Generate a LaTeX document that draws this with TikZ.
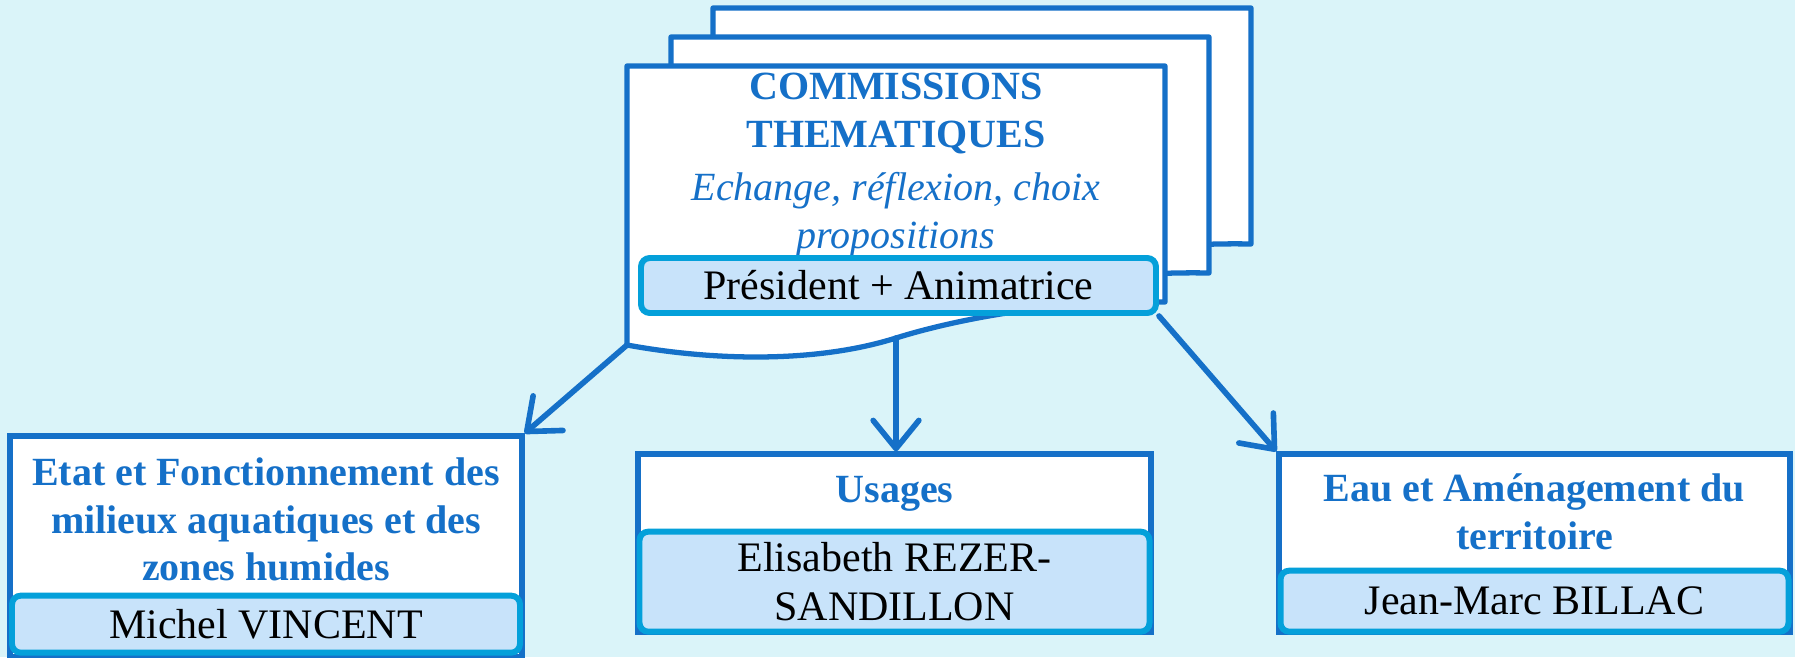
\documentclass[tikz,border=0pt]{standalone}
\usepackage{fontspec}
\setmainfont{Liberation Serif}
\usetikzlibrary{positioning,arrows.meta}
\definecolor{bgcyan}{RGB}{218,244,249}
\definecolor{frameblue}{RGB}{21,112,200}
\definecolor{namefill}{RGB}{200,227,250}
\definecolor{nameline}{RGB}{4,160,218}

\begin{document}
\begin{tikzpicture}[
    sheet/.style={draw=frameblue,fill=white,line width=1.5pt,line join=round},
    thembox/.style={draw=frameblue,fill=white,line width=1.5pt,inner sep=0pt},
    namebox/.style={draw=nameline,fill=namefill,line width=1.7pt,rounded corners=2.5pt,inner sep=0pt,align=center,font=\fontsize{11.95}{13.7}\selectfont},
    title/.style={text=frameblue,align=center,inner sep=0pt,font=\fontsize{11.38}{13.5}\selectfont\bfseries},
    link/.style={draw=frameblue,line width=1.6pt,line cap=round,-{Straight Barb[length=8pt,width=13pt,round]}}]

    \fill[bgcyan] (0,0) rectangle (17.95,6.57);
    \useasboundingbox (0,0) rectangle (17.95,6.57);

    % three stacked sheets
    \draw[sheet,shift={(0.86,0.58)}] (6.27,5.91) -- (11.65,5.91) -- (11.65,3.55) .. controls (10.60,3.57) and (9.60,3.39) .. (8.96,3.19) .. controls (8.20,2.95) and (7.20,2.95) .. (6.27,3.12) -- cycle;
    \draw[sheet,shift={(0.44,0.29)}] (6.27,5.91) -- (11.65,5.91) -- (11.65,3.55) .. controls (10.60,3.57) and (9.60,3.39) .. (8.96,3.19) .. controls (8.20,2.95) and (7.20,2.95) .. (6.27,3.12) -- cycle;
    \draw[sheet] (6.27,5.91) -- (11.65,5.91) -- (11.65,3.55) .. controls (10.60,3.57) and (9.60,3.39) .. (8.96,3.19) .. controls (8.20,2.95) and (7.20,2.95) .. (6.27,3.12) -- cycle;
    \coordinate (sheetSW) at (6.27,3.12);
    \coordinate (sheetS) at (8.96,3.19);

    \node[title] (comm) at (8.96,4.92) {COMMISSIONS\\THEMATIQUES\\[1.7pt]\textit{\mdseries Echange, réflexion, choix}\\\textit{\mdseries propositions}};
    \node[namebox,minimum width=5.15cm,minimum height=0.55cm] (chair) at (8.985,3.715) {Président + Animatrice};

    % left commission
    \node[thembox,minimum width=5.12cm,minimum height=2.21cm] (water) at (2.66,1.105) {};
    \node[title,below=0.24cm of water.north] (watertitle) {Etat et Fonctionnement des\\milieux aquatiques et des\\zones humides};
    \node[namebox,minimum width=5.08cm,minimum height=0.57cm,above=0.04cm of water.south] (vincent) {Michel VINCENT};

    % middle commission
    \node[thembox,minimum width=5.13cm,minimum height=1.78cm] (use) at (8.945,1.14) {};
    \node[title,below=0.24cm of use.north] (usetitle) {Usages};
    \node[namebox,minimum width=5.10cm,minimum height=1.0cm,above=0pt of use.south] (rezer) {Elisabeth REZER-\\SANDILLON};

    % right commission
    \node[thembox,minimum width=5.11cm,minimum height=1.78cm] (field) at (15.345,1.14) {};
    \node[title,below=0.22cm of field.north] (fieldtitle) {Eau et Aménagement du\\territoire};
    \node[namebox,minimum width=5.08cm,minimum height=0.61cm,above=0pt of field.south] (billac) {Jean-Marc BILLAC};

    \draw[link] (sheetSW) -- (water.north east);
    \draw[link] (sheetS) -- (sheetS |- use.north);
    \draw[link] (chair.south east) -- (field.north west);
\end{tikzpicture}
\end{document}
